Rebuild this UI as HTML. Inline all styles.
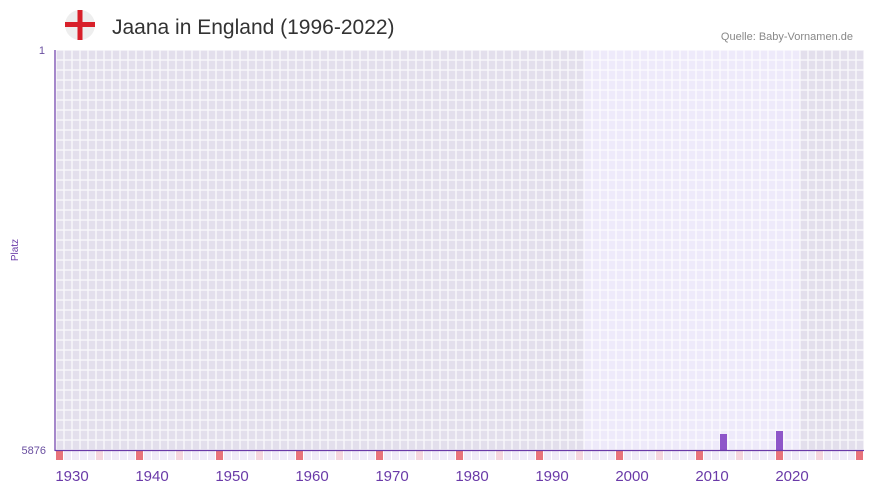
<!DOCTYPE html>
<html><head><meta charset="utf-8"><style>
body{margin:0;background:#fff;width:873px;height:492px;overflow:hidden;font-family:"Liberation Sans",sans-serif}
</style></head><body>
<svg width="873" height="492" xmlns="http://www.w3.org/2000/svg">
<defs>
<pattern id="g" x="56" y="50" width="8" height="10" patternUnits="userSpaceOnUse">
<rect width="8" height="10" fill="none" stroke="#fff" stroke-opacity="0.8" stroke-width="1.3"/>
</pattern>
<pattern id="s" x="56" y="451" width="8" height="9" patternUnits="userSpaceOnUse">
<rect x="7" width="1" height="9" fill="#fff"/>
</pattern>
</defs>
<rect x="56" y="50" width="808" height="400" fill="#e3dfec"/>
<rect x="584" y="50" width="216" height="400" fill="#eeeafa"/>
<rect x="56" y="50" width="808" height="400" fill="url(#g)"/>
<rect x="56" y="451" width="808" height="9" fill="#efeaf8"/>
<rect x="56" y="451" width="808" height="9" fill="url(#s)"/>
<g fill="#e8737b">
<rect x="56" y="451" width="7" height="9"/><rect x="136" y="451" width="7" height="9"/><rect x="216" y="451" width="7" height="9"/><rect x="296" y="451" width="7" height="9"/><rect x="376" y="451" width="7" height="9"/><rect x="456" y="451" width="7" height="9"/><rect x="536" y="451" width="7" height="9"/><rect x="616" y="451" width="7" height="9"/><rect x="696" y="451" width="7" height="9"/><rect x="776" y="451" width="7" height="9"/><rect x="856" y="451" width="7" height="9"/></g>
<g fill="#f5d5de">
<rect x="96" y="451" width="7" height="9"/><rect x="176" y="451" width="7" height="9"/><rect x="256" y="451" width="7" height="9"/><rect x="336" y="451" width="7" height="9"/><rect x="416" y="451" width="7" height="9"/><rect x="496" y="451" width="7" height="9"/><rect x="576" y="451" width="7" height="9"/><rect x="656" y="451" width="7" height="9"/><rect x="736" y="451" width="7" height="9"/><rect x="816" y="451" width="7" height="9"/></g>
<rect x="720" y="434" width="7" height="16" fill="#8e56c9"/>
<rect x="776" y="431" width="7" height="19" fill="#8e56c9"/>
<line x1="55" y1="50" x2="55" y2="451" stroke="#6a3aa8" stroke-width="1.2"/>
<line x1="55" y1="450.5" x2="864" y2="450.5" stroke="#6a3aa8" stroke-width="1.2"/>
<g font-size="11" fill="#6a4fa0" text-anchor="end">
<text x="45" y="54">1</text><text x="46" y="454">5876</text></g>
<text x="18" y="250" font-size="10" fill="#6a3aa8" text-anchor="middle" transform="rotate(-90 18 250)">Platz</text>
<g font-size="15" fill="#6a3aa8" text-anchor="middle">
<text x="72" y="481">1930</text><text x="152" y="481">1940</text><text x="232" y="481">1950</text><text x="312" y="481">1960</text><text x="392" y="481">1970</text><text x="472" y="481">1980</text><text x="552" y="481">1990</text><text x="632" y="481">2000</text><text x="712" y="481">2010</text><text x="792" y="481">2020</text></g>
<text x="853" y="40" font-size="11" fill="#888" text-anchor="end">Quelle: Baby-Vornamen.de</text>
<text x="112" y="34" font-size="21" fill="#333">Jaana in England (1996-2022)</text>
<circle cx="80" cy="25" r="15" fill="#eee"/>
<rect x="65" y="22" width="30" height="5" fill="#d8202a"/>
<rect x="77.5" y="10" width="5" height="30" fill="#d8202a"/>
</svg>
</body></html>
